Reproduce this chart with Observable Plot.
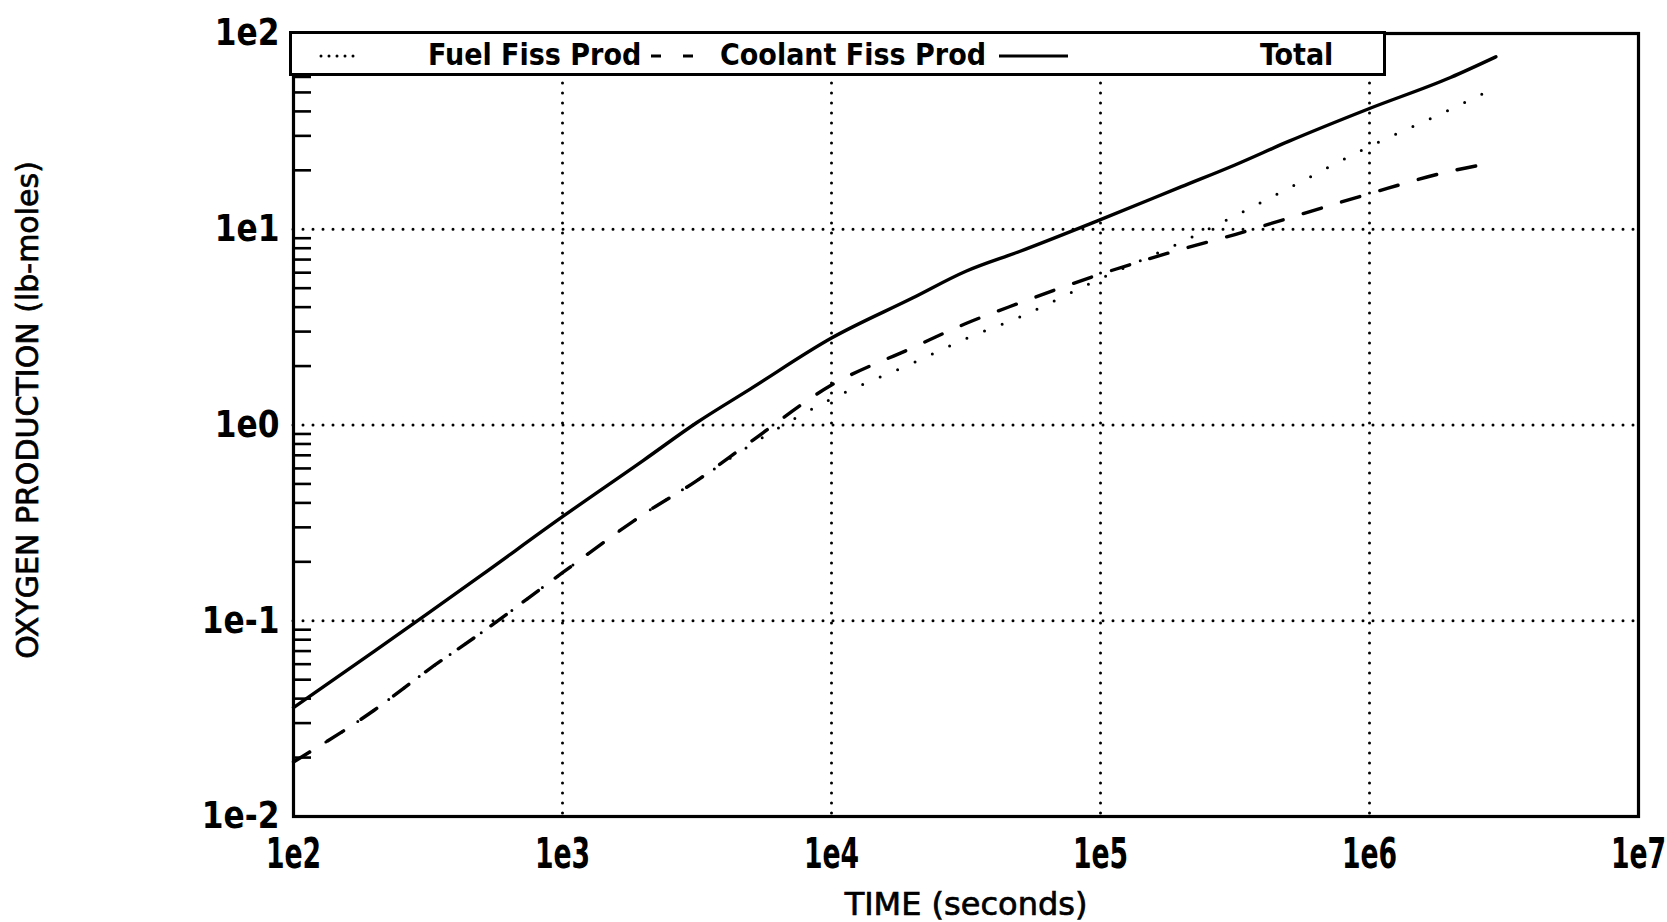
<!DOCTYPE html>
<html>
<head>
<meta charset="utf-8">
<script src="https://cdn.jsdelivr.net/npm/d3@7"></script>
<script src="https://cdn.jsdelivr.net/npm/@observablehq/plot@0.6"></script>
<style>
  html, body { margin: 0; padding: 0; background: #fff; }
  #wrap { position: relative; width: 1667px; height: 922px; overflow: hidden; }
  #legend { position: absolute; left: 289px; top: 31px; }
</style>
</head>
<body>
<div id="wrap"></div>
<script>
// ---- data (time in seconds, production in lb-moles) ----
const times   = [100, 200, 316, 500, 1000, 2000, 3160, 5000, 10000, 20000, 31600, 50000, 1e5, 2e5, 3.16e5, 5e5, 1e6, 2e6, 2.95e6];
const fuel    = [0.019, 0.035, 0.056, 0.087, 0.176, 0.35, 0.52, 0.79, 1.36, 2.07, 2.76, 3.56, 5.6, 8.6, 11.7, 16.2, 26.5, 41, 53];
const coolant = [0.019, 0.035, 0.056, 0.087, 0.176, 0.35, 0.52, 0.82, 1.60, 2.48, 3.3, 4.2, 5.9, 7.9, 9.4, 11.4, 15.2, 19.8, 22];
const total   = [0.036, 0.070, 0.109, 0.171, 0.34, 0.66, 1.03, 1.53, 2.78, 4.45, 6.1, 7.7, 11.2, 16.5, 21.3, 28.1, 41.4, 59.6, 76];

const xTicks = [1e2, 1e3, 1e4, 1e5, 1e6, 1e7];
const xTickLabels = ["1e2", "1e3", "1e4", "1e5", "1e6", "1e7"];
const yTicks = [1e-2, 1e-1, 1e0, 1e1, 1e2];
const yTickLabels = ["1e-2", "1e-1", "1e0", "1e1", "1e2"];
const xGrid = [1e3, 1e4, 1e5, 1e6];
const yGrid = [1e-1, 1e0, 1e1];
const yMinor = [2,3,4,5,6,7,8,9].flatMap(m => [1e-2, 1e-1, 1e0, 1e1].map(d => m * d));

const seriesNames = ["Fuel Fiss Prod", "Coolant Fiss Prod", "Total"];
const xLabel = "TIME (seconds)";
const yLabel = "OXYGEN PRODUCTION (lb-moles)";

const rows = times.map((t, i) => ({t, fuel: fuel[i], coolant: coolant[i], total: total[i]}));

const gridStyle = {stroke: "black", strokeOpacity: 1, strokeWidth: 3, strokeLinecap: "round", strokeDasharray: "0,10"};

const chart = Plot.plot({
  width: 1667,
  height: 922,
  marginLeft: 293,
  marginRight: 29,
  marginTop: 33,
  marginBottom: 106,
  style: {background: "white", color: "black", fontFamily: "DejaVu Sans"},
  x: {type: "log", domain: [1e2, 1e7]},
  y: {type: "log", domain: [1e-2, 1e2]},
  marks: [
    Plot.gridX(xGrid, gridStyle),
    Plot.gridY(yGrid, gridStyle),
    Plot.axisY(yMinor, {tickSize: 18, dx: 18, strokeWidth: 2.6, tickFormat: () => "", label: null}),
    Plot.axisX(xTicks, {
      tickSize: 0, tickPadding: 21,
      tickFormat: d => xTickLabels[xTicks.indexOf(d)],
      fontSize: 43, fontWeight: "bold", fontFamily: "DejaVu Sans Condensed",
      label: xLabel, labelAnchor: "center", labelOffset: 98, labelArrow: "none"
    }),
    Plot.axisY(yTicks, {
      tickSize: 0, tickPadding: 14,
      tickFormat: d => yTickLabels[yTicks.indexOf(d)],
      fontSize: 34, fontWeight: "bold", fontFamily: "DejaVu Sans",
      label: yLabel, labelAnchor: "center", labelOffset: 277, labelArrow: "none"
    }),
    Plot.line(rows, {x: "t", y: "fuel", curve: "monotone-x", stroke: "black", strokeWidth: 3, strokeLinecap: "round", strokeDasharray: "0,19"}),
    Plot.line(rows, {x: "t", y: "coolant", curve: "monotone-x", stroke: "black", strokeWidth: 3.4, strokeDasharray: "19,21"}),
    Plot.line(rows, {x: "t", y: "total", curve: "monotone-x", stroke: "black", strokeWidth: 3.4}),
    Plot.frame({stroke: "black", strokeWidth: 3.2})
  ]
});

// narrow the x tick labels like the plotter font
d3.select(chart).selectAll('g[aria-label="x-axis tick label"] text').each(function() {
  const t = this.getAttribute("transform") || "";
  this.setAttribute("transform", t + " scale(0.69,1)");
});
d3.select(chart).selectAll('g[aria-label="y-axis tick label"] text').each(function() {
  const t = this.getAttribute("transform") || "";
  this.setAttribute("transform", t + " scale(0.92,1.08)");
});
d3.select(chart).selectAll('g[aria-label="x-axis label"] text')
  .style("font-size", "32px").style("font-weight", "normal").style("font-family", "'DejaVu Sans'")
  .attr("stroke", "black").attr("stroke-width", 0.7);
d3.select(chart).selectAll('g[aria-label="y-axis label"] text')
  .style("font-size", "30px").style("font-weight", "normal").style("font-family", "'DejaVu Sans'")
  .attr("stroke", "black").attr("stroke-width", 0.7).attr("dx", 15);

const wrap = document.getElementById("wrap");
wrap.appendChild(chart);

// legend box drawn over the top of the frame
const lw = 1097, lh = 45;
const legend = d3.create("svg").attr("id", "legend").attr("width", lw).attr("height", lh)
  .style("font-family", "'DejaVu Sans Condensed'").style("font-weight", "bold").style("font-size", "30px");
legend.append("rect").attr("x", 1.5).attr("y", 1.5).attr("width", lw - 3).attr("height", lh - 3)
  .attr("fill", "white").attr("stroke", "black").attr("stroke-width", 3);
legend.append("line").attr("x1", 32).attr("x2", 68).attr("y1", 25).attr("y2", 25)
  .attr("stroke", "black").attr("stroke-width", 3).attr("stroke-linecap", "round").attr("stroke-dasharray", "0,8");
legend.append("text").attr("x", 139).attr("y", 34).text(seriesNames[0]);
legend.append("line").attr("x1", 362).attr("x2", 404).attr("y1", 25).attr("y2", 25)
  .attr("stroke", "black").attr("stroke-width", 3).attr("stroke-dasharray", "10,22");
legend.append("text").attr("x", 431).attr("y", 34).text(seriesNames[1]);
legend.append("line").attr("x1", 710).attr("x2", 779).attr("y1", 25).attr("y2", 25)
  .attr("stroke", "black").attr("stroke-width", 3);
legend.append("text").attr("x", 971).attr("y", 34).text(seriesNames[2]);
wrap.appendChild(legend.node());
</script>
</body>
</html>
